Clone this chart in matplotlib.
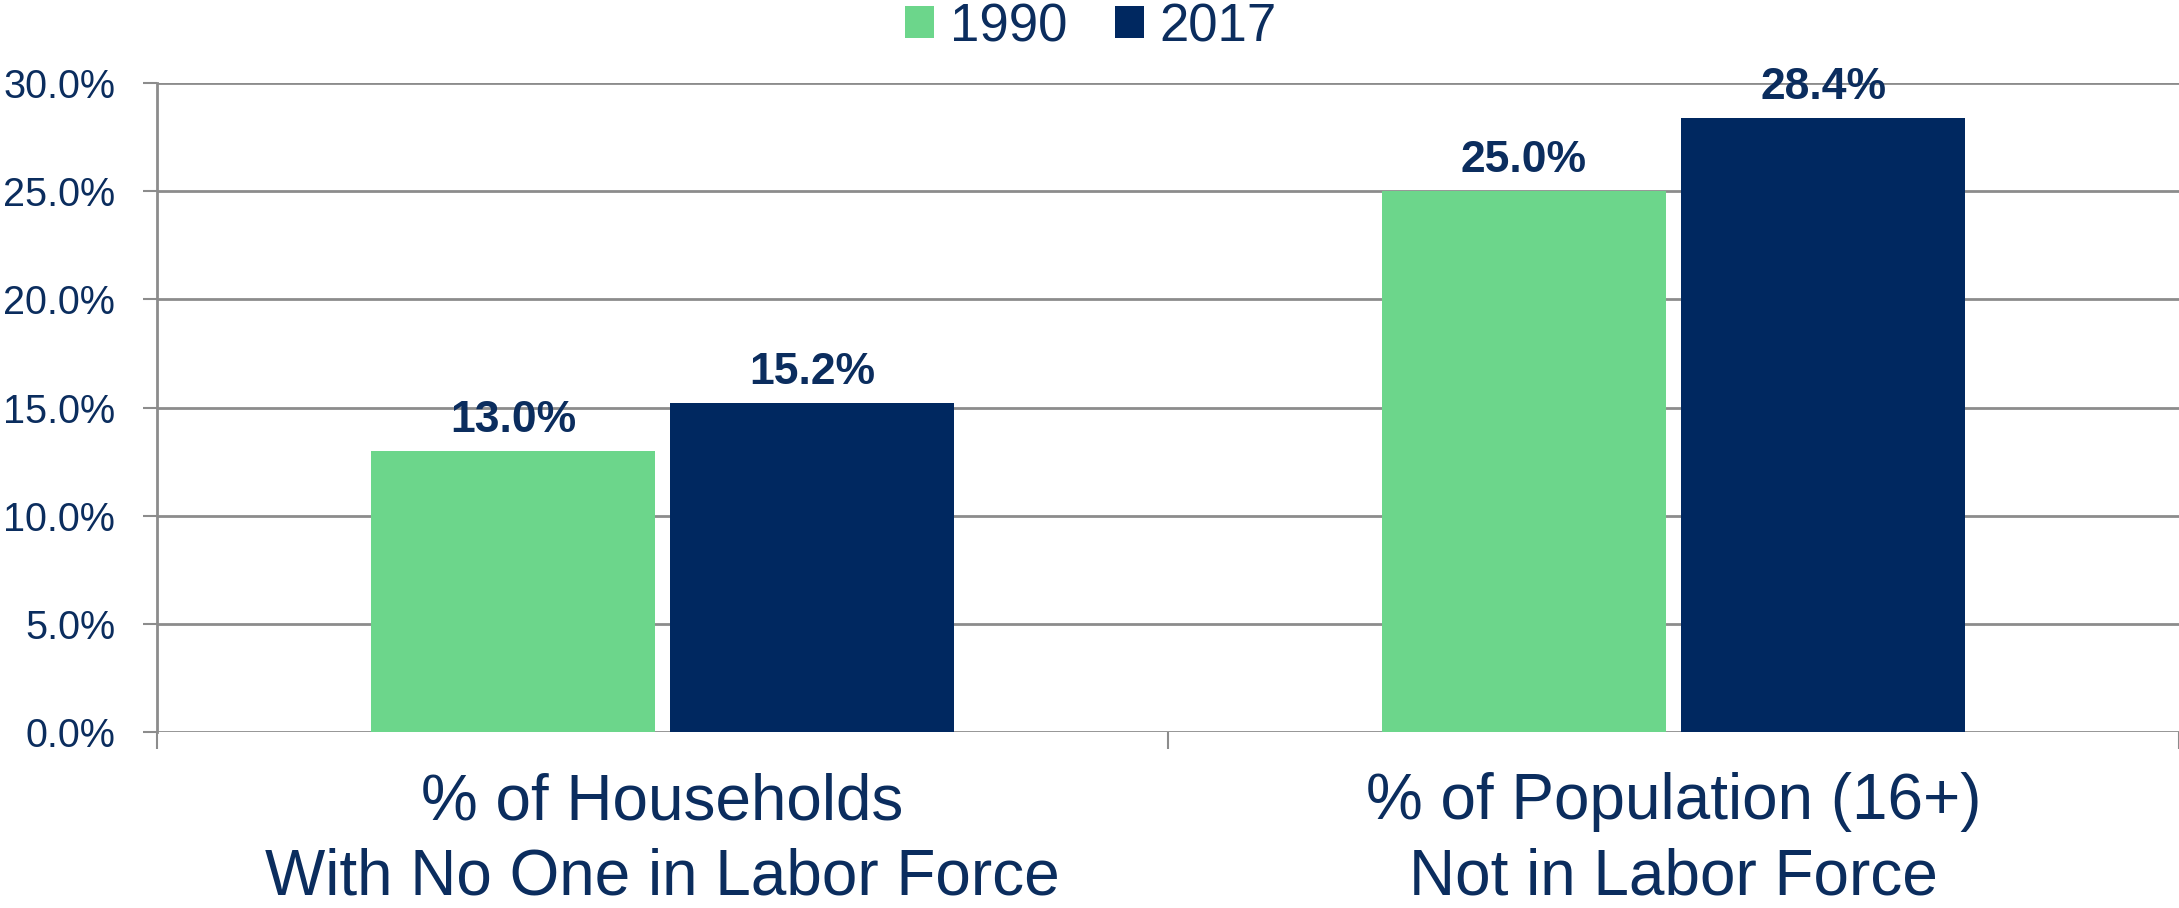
import matplotlib.pyplot as plt
import numpy as np

categories = ["% of Households\nWith No One in Labor Force", "% of Population (16+)\nNot in Labor Force"]
years = ["1990", "2017"]
vals_1990 = [13.0, 25.0]
vals_2017 = [15.2, 28.4]

green = "#6CD68B"
navy = "#002860"
txt = "#0B2D5E"
grid = "#8C8C8C"

plt.rcParams['font.family'] = ['Liberation Sans', 'DejaVu Sans']

fig = plt.figure(figsize=(21.79, 9.08), dpi=100)
ax = fig.add_axes([157/2179, 1-732/908, 1-157/2179, (732-83)/908])

x = np.arange(len(categories)) + 0.5
w = 0.281
gap = 0.015
b1 = ax.bar(x - w/2 - gap/2, vals_1990, w, color=green, label=years[0], zorder=3)
b2 = ax.bar(x + w/2 + gap/2, vals_2017, w, color=navy, label=years[1], zorder=3)

# value labels above bars
for bars, vals in [(b1, vals_1990), (b2, vals_2017)]:
    for r, v in zip(bars, vals):
        ax.annotate(f"{v:.1f}%", (r.get_x() + r.get_width()/2, v), xytext=(0, 7),
                    textcoords="offset points", ha="center", va="bottom",
                    fontsize=32, fontweight="bold", color=txt)

ax.set_xlim(0, 2)
ax.set_ylim(0, 30)
ax.set_yticks(np.arange(0, 31, 5))
ax.set_yticklabels([f"{t:.1f}%" for t in np.arange(0, 31, 5)])
ax.yaxis.grid(True, color=grid, linewidth=2, zorder=0)
ax.set_axisbelow(True)

ax.set_xticks(x)
ax.set_xticklabels(categories, fontsize=46, color=txt, linespacing=1.33)
ax.set_xticks([0, 1, 2], minor=True)
ax.tick_params(axis='x', which='major', length=0, pad=29)
ax.tick_params(axis='x', which='minor', length=12, width=1.5, color=grid)
ax.tick_params(axis='y', length=10, width=1.5, color=grid, labelsize=28.5, labelcolor=txt, pad=20)

for s in ['top', 'right', 'bottom']:
    ax.spines[s].set_visible(False)
ax.spines['left'].set_color(grid)
ax.spines['left'].set_linewidth(2)
ax.spines['left'].set_bounds(0, 30)
ax.spines['left'].set_zorder(4)

leg = fig.legend(loc='center', bbox_to_anchor=(1091/2179, 1-27/908), ncol=2, frameon=False,
                 fontsize=38, handlelength=0.55, handleheight=0.55, handletextpad=0.3,
                 columnspacing=0.9, borderaxespad=0)
for t in leg.get_texts():
    t.set_color(txt)

fig.savefig("out.png", dpi=100)
